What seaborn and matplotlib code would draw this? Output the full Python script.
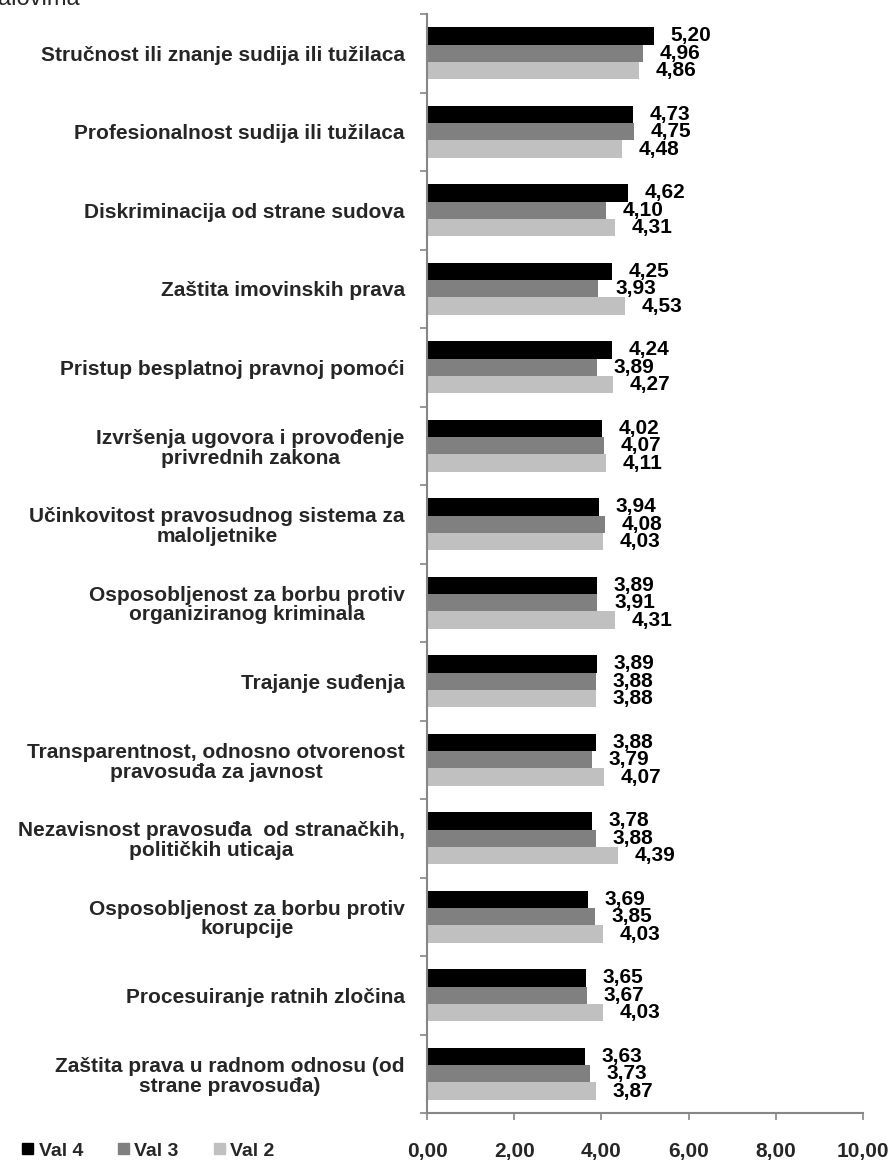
import matplotlib
matplotlib.use("Agg")
import matplotlib.pyplot as plt
from matplotlib import font_manager
import seaborn as sns
import pandas as pd
import numpy as np

# --- data ---
categories = [
    "Stručnost ili znanje sudija ili tužilaca",
    "Profesionalnost sudija ili tužilaca",
    "Diskriminacija od strane sudova",
    "Zaštita imovinskih prava",
    "Pristup besplatnoj pravnoj pomoći",
    "Izvršenja ugovora i provođenje\nprivrednih zakona",
    "Učinkovitost pravosudnog sistema za\nmaloljetnike",
    "Osposobljenost za borbu protiv\norganiziranog kriminala",
    "Trajanje suđenja",
    "Transparentnost, odnosno otvorenost\npravosuđa za javnost",
    "Nezavisnost pravosuđa  od stranačkih,\npolitičkih uticaja",
    "Osposobljenost za borbu protiv\nkorupcije",
    "Procesuiranje ratnih zločina",
    "Zaštita prava u radnom odnosu (od\nstrane pravosuđa)",
]
val4 = [5.20, 4.73, 4.62, 4.25, 4.24, 4.02, 3.94, 3.89, 3.89, 3.88, 3.78, 3.69, 3.65, 3.63]
val3 = [4.96, 4.75, 4.10, 3.93, 3.89, 4.07, 4.08, 3.91, 3.88, 3.79, 3.88, 3.85, 3.67, 3.73]
val2 = [4.86, 4.48, 4.31, 4.53, 4.27, 4.11, 4.03, 4.31, 3.88, 4.07, 4.39, 4.03, 4.03, 3.87]
series_names = ["Val 4", "Val 3", "Val 2"]
colors = ["#000000", "#808080", "#C0C0C0"]
xticks = [0, 2, 4, 6, 8, 10]

# long format for seaborn
df = pd.DataFrame({"kategorija": categories, "Val 4": val4, "Val 3": val3, "Val 2": val2})
long_df = df.melt(id_vars="kategorija", value_vars=series_names, var_name="Val", value_name="ocjena")

sns.set_style("white")
plt.rcParams["font.family"] = ["Liberation Sans", "DejaVu Sans"]

# narrow font for axis numbers and legend, if there is one
installed = {f.name for f in font_manager.fontManager.ttflist}
if "Liberation Sans Narrow" in installed:
    narrow = {"family": ["Liberation Sans Narrow", "DejaVu Sans"], "size": 18, "weight": "bold"}
    legend_font = {"family": ["Liberation Sans Narrow", "DejaVu Sans"], "size": 17, "weight": "bold"}
else:
    narrow = {"family": ["Liberation Sans", "DejaVu Sans"], "size": 15, "weight": "bold"}
    legend_font = {"family": ["Liberation Sans", "DejaVu Sans"], "size": 14, "weight": "bold"}

fig = plt.figure(figsize=(8.96, 11.61), dpi=100)
ax = fig.add_axes([427 / 896, 1 - 1113 / 1161, (863 - 427) / 896, (1113 - 14) / 1161])

sns.barplot(data=long_df, x="ocjena", y="kategorija", hue="Val", order=categories,
            hue_order=series_names, palette=colors, width=0.66, saturation=1,
            orient="h", legend=False, ax=ax, linewidth=0)

# value labels with decimal comma
for cont, vals in zip(ax.containers, [val4, val3, val2]):
    ax.bar_label(cont, labels=[f"{v:.2f}".replace(".", ",") for v in vals],
                 padding=12, fontsize=15, fontweight="bold", color="black")

ax.set_xlim(0, 10)
ax.set_ylim(len(categories) - 0.5, -0.5)
ax.set_xticks(xticks)
ax.set_xticklabels([f"{t:.2f}".replace(".", ",") for t in xticks], fontdict=narrow)
ax.set_yticks(range(len(categories)))
ax.set_yticklabels(categories, fontsize=15, fontweight="bold", multialignment="center",
                   linespacing=1.05)
ax.set_yticks(np.arange(-0.5, len(categories), 1), minor=True)
ax.tick_params(axis="y", which="major", length=0, pad=16)
ax.tick_params(axis="y", which="minor", length=5, color="#868686", width=1.2, direction="out", left=True)
ax.tick_params(axis="x", length=5, color="#868686", width=1.2, direction="out", pad=16, bottom=True)
ax.set_xlabel("")
ax.set_ylabel("")

for s in ["top", "right"]:
    ax.spines[s].set_visible(False)
for s in ["left", "bottom"]:
    ax.spines[s].set_color("#868686")
    ax.spines[s].set_linewidth(1.5)

# legend bottom left
handles = [plt.Rectangle((0, 0), 1, 1, color=c) for c in colors]
fig.legend(handles, series_names, loc="center left", bbox_to_anchor=(22 / 896, 1 - 1151 / 1161),
           ncol=3, frameon=False, handlelength=0.55, handleheight=0.55, handletextpad=0.3,
           columnspacing=1.8, borderaxespad=0, borderpad=0, prop=legend_font)

# cut-off title remnant at the very top
fig.text(-2 / 896, 1 - 5 / 1161, "alovima", fontsize=17, va="baseline", ha="left")

fig.savefig("out.png", dpi=100)
